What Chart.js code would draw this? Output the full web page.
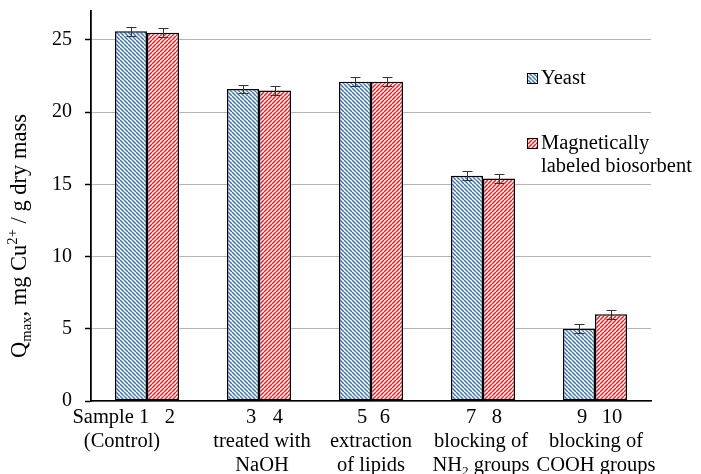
<!DOCTYPE html>
<html><head><meta charset="utf-8">
<script src="https://cdn.jsdelivr.net/npm/chart.js@4"></script>
<style>html,body{margin:0;padding:0;background:#fff}canvas{display:block}</style>
</head><body>
<canvas id="c" width="701" height="474"></canvas>
<script>
// ---- data ----
const categories = ['Sample (Control)', 'treated with NaOH', 'extraction of lipids', 'blocking of NH2 groups', 'blocking of COOH groups'];
const sampleNumbers = [['1', '2'], ['3', '4'], ['5', '6'], ['7', '8'], ['9', '10']];
const labelLines = [['(Control)'], ['treated with', 'NaOH'], ['extraction', 'of lipids'], ['blocking of', 'NH_{2} groups'], ['blocking of', 'COOH groups']];
const seriesNames = ['Yeast', 'Magnetically labeled biosorbent'];
const yeast = [25.6, 21.6, 22.1, 15.6, 5.0];
const magnetic = [25.5, 21.5, 22.1, 15.4, 6.0];
const yeastErr = [0.3, 0.3, 0.3, 0.3, 0.3];
const magneticErr = [0.3, 0.3, 0.3, 0.3, 0.3];
const yTicks = [0, 5, 10, 15, 20, 25];
const yTitle = 'Q_{max}, mg Cu^{2+} / g dry mass';
const firstLabelPrefix = 'Sample';

// ---- styling ----
const FAM = "'Liberation Serif', 'Times New Roman', serif";
const FS = 20.5;
const numOffsets = [[13, 7], [8, 3], [7, -2], [4, -2], [3, 1]];
const lineOffsets = [-25, 3, 0, -2, 1];

function makePattern(color, dir) {
  const s = 4;
  const c = document.createElement('canvas');
  c.width = s; c.height = s;
  const g = c.getContext('2d');
  g.fillStyle = '#fff'; g.fillRect(0, 0, s, s);
  g.strokeStyle = color; g.lineWidth = 1.5;
  g.beginPath();
  for (let k = -1; k <= 1; k++) {
    if (dir === 'down') { g.moveTo(k * s, 0); g.lineTo(k * s + s, s); }
    else { g.moveTo(k * s, s); g.lineTo(k * s + s, 0); }
  }
  g.stroke();
  return g.createPattern(c, 'repeat');
}
const bluePat = makePattern('#3a76c4', 'down');
const redPat = makePattern('#f51c1c', 'up');

function parseRich(str) {
  const parts = str.split(/(_\{[^}]*\}|\^\{[^}]*\})/).filter(p => p.length);
  return parts.map(p => {
    if (p.startsWith('_{')) return { t: p.slice(2, -1), m: 'sub' };
    if (p.startsWith('^{')) return { t: p.slice(2, -1), m: 'sup' };
    return { t: p, m: 'n' };
  });
}
function drawRich(ctx, str, x, y, size, align) {
  const segs = parseRich(str);
  let w = 0;
  for (const s of segs) {
    ctx.font = (s.m === 'n' ? size : size * 0.65) + 'px ' + FAM;
    s.w = ctx.measureText(s.t).width; w += s.w;
  }
  let cx = align === 'center' ? x - w / 2 : (align === 'right' ? x - w : x);
  ctx.textAlign = 'left';
  for (const s of segs) {
    ctx.font = (s.m === 'n' ? size : size * 0.65) + 'px ' + FAM;
    const dy = s.m === 'sub' ? size * 0.2 : (s.m === 'sup' ? -size * 0.38 : 0);
    ctx.fillText(s.t, cx, y + dy);
    cx += s.w;
  }
  return w;
}

const errs = [yeastErr, magneticErr];
const errorBars = {
  id: 'errorBars',
  afterDatasetsDraw(chart) {
    const ctx = chart.ctx, ys = chart.scales.y;
    ctx.save();
    ctx.strokeStyle = '#333'; ctx.lineWidth = 1;
    chart.data.datasets.forEach((ds, d) => {
      chart.getDatasetMeta(d).data.forEach((el, i) => {
        const v = ds.data[i], e = errs[d][i];
        const x = Math.round(el.x) + 0.5;
        const t = Math.round(ys.getPixelForValue(v + e)) + 0.5;
        const b = Math.round(ys.getPixelForValue(v - e)) + 0.5;
        ctx.beginPath();
        ctx.moveTo(x, t); ctx.lineTo(x, b);
        ctx.moveTo(x - 5, t); ctx.lineTo(x + 5, t);
        ctx.moveTo(x - 5, b); ctx.lineTo(x + 5, b);
        ctx.stroke();
      });
    });
    ctx.restore();
  }
};

const xLabels = {
  id: 'xLabels',
  afterDraw(chart) {
    const ctx = chart.ctx, xs = chart.scales.x;
    ctx.save();
    ctx.fillStyle = '#000';
    ctx.textBaseline = 'alphabetic';
    const base = [423, 447, 471];
    categories.forEach((c, i) => {
      for (let d = 0; d < 2; d++) {
        const el = chart.getDatasetMeta(d).data[i];
        ctx.font = FS + 'px ' + FAM; ctx.textAlign = 'center';
        ctx.fillText(sampleNumbers[i][d], el.x + numOffsets[i][d], base[0]);
        if (i === 0 && d === 0) {
          const w = ctx.measureText(sampleNumbers[i][d]).width;
          ctx.textAlign = 'right';
          ctx.fillText(firstLabelPrefix, el.x + numOffsets[i][d] - w / 2 - 5, base[0]);
        }
      }
      const xc = xs.getPixelForValue(i) + lineOffsets[i];
      labelLines[i].forEach((ln, k) => {
        drawRich(ctx, ln, xc, base[k + 1], FS, 'center');
      });
    });
    ctx.restore();
  }
};

const legendPlugin = {
  id: 'customLegend',
  afterDraw(chart) {
    const ctx = chart.ctx;
    ctx.save();
    const pats = [bluePat, redPat];
    const tops = [73, 138];
    ctx.textBaseline = 'alphabetic';
    seriesNames.forEach((name, d) => {
      ctx.fillStyle = pats[d];
      ctx.fillRect(527, tops[d], 11, 11);
      ctx.strokeStyle = '#000'; ctx.lineWidth = 1;
      ctx.strokeRect(527.5, tops[d] + 0.5, 10, 10);
      ctx.fillStyle = '#000';
      ctx.font = FS + 'px ' + FAM; ctx.textAlign = 'left';
      const words = name.split(' ');
      const lines = []; let cur = '';
      words.forEach(w => {
        const t = cur ? cur + ' ' + w : w;
        if (ctx.measureText(t).width > 160 && cur) { lines.push(cur); cur = w; } else cur = t;
      });
      lines.push(cur);
      lines.forEach((ln, k) => ctx.fillText(ln, 541, tops[d] + 11 + k * 23));
    });
    ctx.restore();
  }
};

const yTitlePlugin = {
  id: 'yTitle',
  afterDraw(chart) {
    const ctx = chart.ctx;
    ctx.save();
    ctx.translate(26, 236);
    ctx.rotate(-Math.PI / 2);
    ctx.fillStyle = '#000';
    ctx.textBaseline = 'alphabetic';
    drawRich(ctx, yTitle, 0, 0, 22.5, 'center');
    ctx.restore();
  }
};

new Chart(document.getElementById('c').getContext('2d'), {
  type: 'bar',
  data: {
    labels: categories,
    datasets: [
      { label: seriesNames[0], data: yeast, backgroundColor: bluePat, borderColor: '#000', borderWidth: 1.5, borderSkipped: false, categoryPercentage: 0.5714, barPercentage: 1 },
      { label: seriesNames[1], data: magnetic, backgroundColor: redPat, borderColor: '#000', borderWidth: 1.5, borderSkipped: false, categoryPercentage: 0.5714, barPercentage: 1 }
    ]
  },
  options: {
    responsive: false,
    animation: false,
    devicePixelRatio: 1,
    layout: { padding: { left: 0, right: 50, top: 11, bottom: 0 } },
    plugins: { legend: { display: false }, tooltip: { enabled: false } },
    scales: {
      x: {
        ticks: { display: false },
        grid: { display: false, drawTicks: false },
        border: { color: '#000', width: 1.5 },
        afterFit(s) { s.height = 73; s.paddingLeft = 0; s.paddingRight = 0; }
      },
      y: {
        min: 0, max: 27,
        ticks: { stepSize: 5, color: '#000', padding: 13, font: { family: FAM, size: 20 } },
        afterBuildTicks(s) { s.ticks = yTicks.map(v => ({ value: v })); },
        grid: { color: '#b5b5b5', lineWidth: 1, tickLength: 6, tickColor: '#000', tickWidth: 1.5 },
        border: { color: '#000', width: 1.8 },
        afterFit(s) { s.width = 91; s.paddingTop = 0; s.paddingBottom = 0; }
      }
    }
  },
  plugins: [errorBars, xLabels, legendPlugin, yTitlePlugin]
});
</script>
</body></html>
